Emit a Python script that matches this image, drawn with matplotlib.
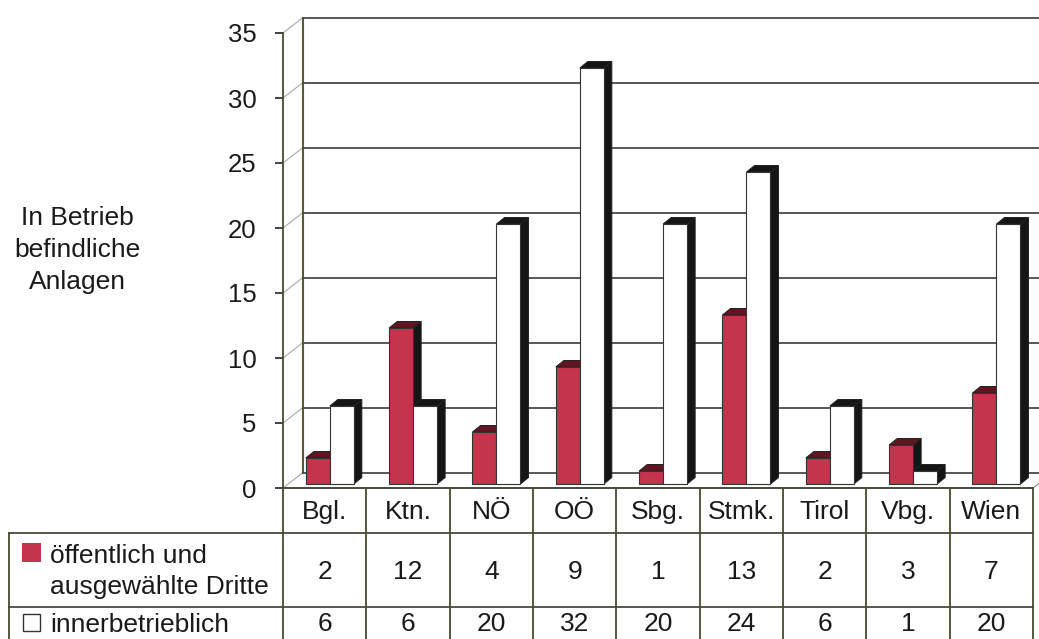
import matplotlib
matplotlib.use("Agg")
import matplotlib.pyplot as plt
from matplotlib.patches import Polygon, Rectangle

plt.rcParams['font.family'] = ['Liberation Sans', 'DejaVu Sans']

# ---- data ----
categories = ["Bgl.", "Ktn.", "NÖ", "OÖ", "Sbg.", "Stmk.", "Tirol", "Vbg.", "Wien"]
oeffentlich = [2, 12, 4, 9, 1, 13, 2, 3, 7]
innerbetrieblich = [6, 6, 20, 32, 20, 24, 6, 1, 20]
series_labels = ["öffentlich und", "ausgewählte Dritte", "innerbetrieblich"]
ylabel = "In Betrieb\nbefindliche\nAnlagen"
yticks = [0, 5, 10, 15, 20, 25, 30, 35]

# ---- styles ----
RED = '#c4344d'
RED_TOP = '#621420'
DARK = '#151515'
LINE = '#4a4a40'
GRID = '#4a4a4a'
TXT = '#1a1a1a'

W, H = 1039, 639
X0, X1 = 283, 1033
Y0, Y35 = 488, 33
fig = plt.figure(figsize=(W / 100, H / 100), dpi=100)
ax = fig.add_axes([X0 / W, (H - Y0) / H, (X1 - X0) / W, (Y0 - Y35) / H])
ax.set_xlim(0, 9)
ax.set_ylim(0, 35)
ax.patch.set_alpha(0)
for s in ['top', 'right', 'bottom']:
    ax.spines[s].set_visible(False)
ax.spines['left'].set_color('#4a4a30')
ax.spines['left'].set_linewidth(1.3)
ax.set_xticks([])
ax.set_yticks(yticks)
ax.tick_params(axis='y', length=6, width=1.3, pad=13, labelsize=18.5,
               color='#333333', labelcolor=TXT)

PX = (X1 - X0) / 9.0
PY = (Y0 - Y35) / 35.0


def px(xp):
    return (xp - X0) / PX


def py(yp):
    return (Y0 - yp) / PY


DX = 20 / PX
DY = 15.5 / PY

# left wall diagonals
for v in yticks:
    ax.plot([0, DX], [v, v + DY], color='#a8a8a8', lw=0.8, clip_on=False, zorder=1)
# back wall
ax.plot([DX, DX], [DY, 35 + DY], color='#5a5a38', lw=1.5, clip_on=False, zorder=1)
for v in yticks:
    ax.plot([DX, 9 + DX], [v + DY, v + DY], color=GRID, lw=1.3, clip_on=False, zorder=1)
# floor right edge
ax.plot([9, 9 + DX], [0, DY], color='#888888', lw=0.8, clip_on=False, zorder=1)

# bars
f = 4 / 15.5
bx = f * DX
by = f * DY
bw = 24 / PX
ddx = 8 / PX
ddy = 6.5 / PY
z = 3
for i in range(len(categories)):
    c = i + 0.5 + bx
    for (x0, val, front, top, side) in [
        (c - bw, oeffentlich[i], RED, RED_TOP, DARK),
        (c, innerbetrieblich[i], 'white', DARK, DARK),
    ]:
        x1 = x0 + bw
        b = by
        t = by + val
        ax.add_patch(Polygon([(x1, b), (x1, t), (x1 + ddx, t + ddy), (x1 + ddx, b + ddy)],
                             closed=True, facecolor=side, edgecolor='#222222', lw=0.7,
                             clip_on=False, zorder=z))
        ax.add_patch(Polygon([(x0, t), (x1, t), (x1 + ddx, t + ddy), (x0 + ddx, t + ddy)],
                             closed=True, facecolor=top, edgecolor='#222222', lw=0.7,
                             clip_on=False, zorder=z))
        ax.add_patch(Rectangle((x0, b), bw, val, facecolor=front, edgecolor='#333333',
                               lw=0.8, clip_on=False, zorder=z + 0.5))
        z += 1

# table lines
TZ = 50
ax.plot([0, 9], [0, 0], color=LINE, lw=1.4, clip_on=False, zorder=TZ)
ax.plot([px(9), 9], [py(533), py(533)], color=LINE, lw=1.3, clip_on=False, zorder=TZ)
ax.plot([px(9), 9], [py(607), py(607)], color=LINE, lw=1.3, clip_on=False, zorder=TZ)
for k in range(len(categories) + 1):
    ax.plot([k, k], [0, py(650)], color='#4a4a30', lw=1.3, clip_on=False, zorder=TZ)
ax.plot([px(9), px(9)], [py(533), py(650)], color='#4a4a30', lw=1.3, clip_on=False, zorder=TZ)

FS = 19
for i, cat in enumerate(categories):
    ax.text(i + 0.5, py(519), cat, ha='center', va='baseline', fontsize=FS,
            color=TXT, clip_on=False)
    ax.text(i + 0.5, py(579), str(oeffentlich[i]), ha='center', va='baseline',
            fontsize=FS, color=TXT, clip_on=False)
    ax.text(i + 0.5, py(631), str(innerbetrieblich[i]), ha='center', va='baseline',
            fontsize=FS, color=TXT, clip_on=False)

# legend cells
ax.add_patch(Rectangle((px(22), py(562)), 19 / PX, 19 / PY, facecolor=RED,
                       edgecolor='none', clip_on=False, zorder=TZ))
ax.add_patch(Rectangle((px(23), py(631)), 17 / PX, 17 / PY, facecolor='white',
                       edgecolor='#333333', lw=1.0, clip_on=False, zorder=TZ))
ax.text(px(50), py(563), series_labels[0], ha='left', va='baseline', fontsize=FS,
        color=TXT, clip_on=False)
ax.text(px(50), py(594), series_labels[1], ha='left', va='baseline', fontsize=FS,
        color=TXT, clip_on=False)
ax.text(px(50), py(632), series_labels[2], ha='left', va='baseline', fontsize=FS,
        color=TXT, clip_on=False)

# y label
ax.text(px(77), py(250), ylabel, ha='center', va='center', fontsize=FS,
        linespacing=1.42, color=TXT, clip_on=False)

fig.savefig("out.png", dpi=100)
